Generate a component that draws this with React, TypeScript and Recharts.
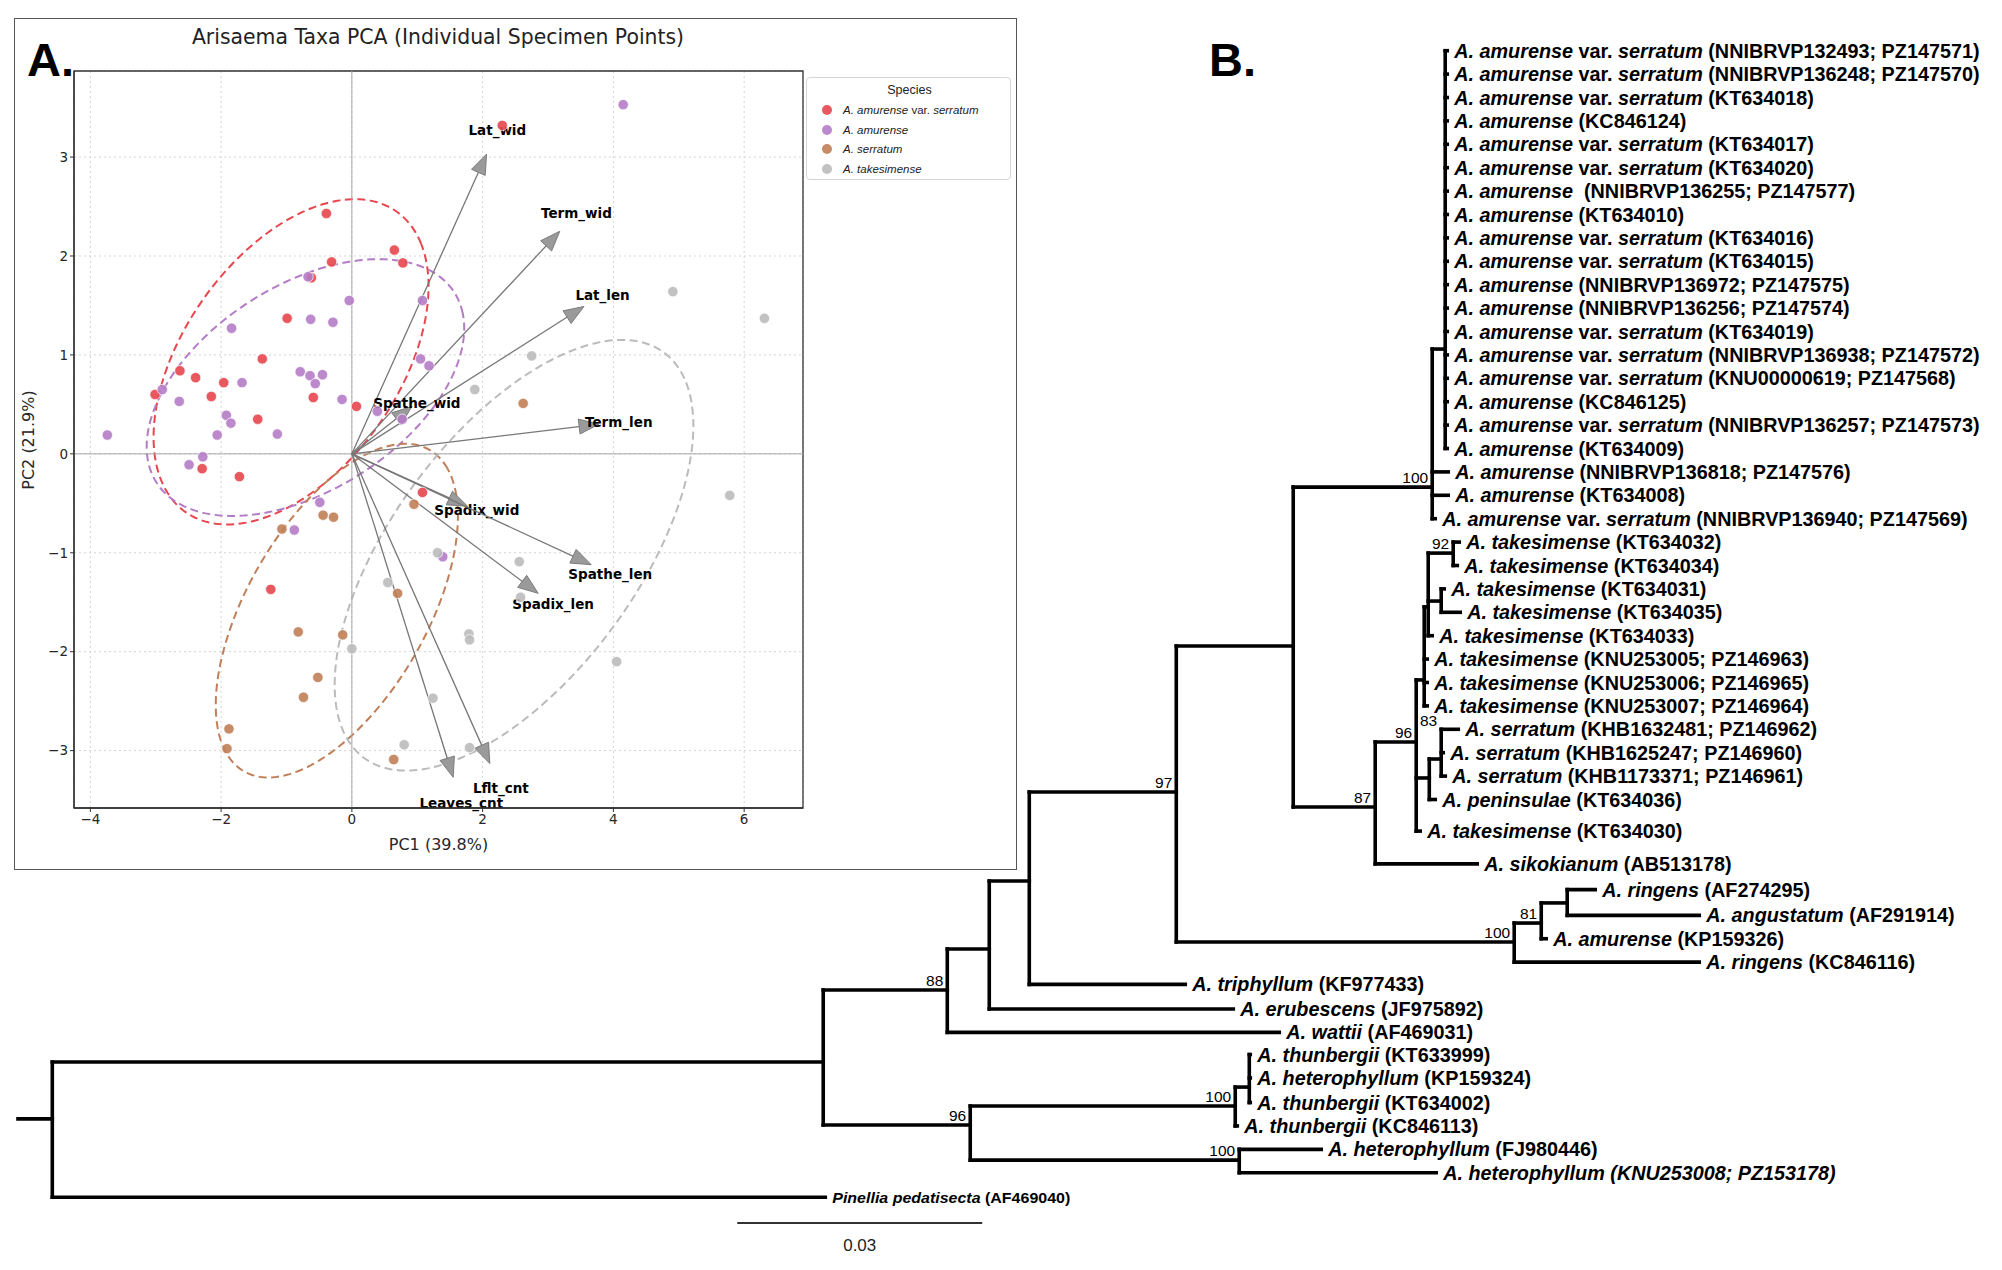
import React from "react";
import { ScatterChart, Scatter, XAxis, YAxis, CartesianGrid, ReferenceLine, ReferenceArea } from "recharts";

const PCA_FONT = '"DejaVu Sans", sans-serif';
const TREE_FONT = '"Liberation Sans", Arial, sans-serif';

// ---------- Panel A: PCA ----------
const speciesNames = ["A. amurense var. serratum", "A. amurense", "A. serratum", "A. takesimense"];
const speciesColors = ["#e8464e", "#b47cc7", "#c07f58", "#bbbbbb"];

const varSerratumPts = [
  [2.3, 3.32], [-0.39, 2.43], [0.65, 2.06], [-0.31, 1.94], [0.78, 1.93], [-0.62, 1.78], [-0.99, 1.37],
  [-1.37, 0.96], [-2.63, 0.84], [-2.39, 0.77], [-1.96, 0.72], [-3.01, 0.6], [-2.15, 0.58], [-0.59, 0.57],
  [0.07, 0.48], [-1.44, 0.35], [-2.29, -0.15], [-1.72, -0.23], [1.08, -0.39], [-1.24, -1.37],
];
const amurensePts = [
  [4.15, 3.53], [-0.67, 1.79], [-0.04, 1.55], [1.08, 1.55], [-1.84, 1.27], [-0.63, 1.36], [-0.29, 1.33],
  [1.05, 0.96], [1.18, 0.89], [-0.79, 0.83], [-0.64, 0.79], [-0.45, 0.8], [-0.56, 0.71], [-1.68, 0.72],
  [-2.9, 0.65], [-2.64, 0.53], [-0.15, 0.55], [0.39, 0.43], [0.77, 0.35], [-1.92, 0.39], [-1.85, 0.31],
  [-2.06, 0.19], [-3.74, 0.19], [-1.14, 0.2], [-2.28, -0.03], [-2.49, -0.11], [-0.49, -0.49], [-0.88, -0.77],
  [1.39, -1.04],
];
const serratumPts = [
  [2.62, 0.51], [0.95, -0.51], [-0.44, -0.62], [-0.28, -0.64], [-1.07, -0.76], [0.7, -1.41], [-0.82, -1.8],
  [-0.14, -1.83], [-0.52, -2.26], [-0.74, -2.46], [-1.88, -2.78], [-1.91, -2.98], [0.64, -3.09],
];
const takesimensePts = [
  [4.91, 1.64], [6.31, 1.37], [2.75, 0.99], [1.88, 0.65], [5.78, -0.42], [1.31, -1.0], [2.56, -1.09],
  [0.55, -1.3], [2.58, -1.45], [1.79, -1.82], [1.8, -1.88], [0.0, -1.97], [4.05, -2.1], [1.24, -2.47],
  [0.8, -2.94], [1.8, -2.97],
];
const speciesPoints = [varSerratumPts, amurensePts, serratumPts, takesimensePts];

// 95% ellipses (center, semi-axes, angle in degrees), one per species
const ellipseCX = [-0.93, -0.71, -0.23, 2.48];
const ellipseCY = [0.93, 0.67, -1.585, -1.025];
const ellipseRX = [2.32, 2.52, 2.22, 3.16];
const ellipseRY = [1.32, 1.11, 1.16, 1.51];
const ellipseAngle = [30.9, 17.3, 40.3, 34.4];

const loadingNames = ["Lat_wid", "Term_wid", "Lat_len", "Term_len", "Spathe_wid", "Spadix_wid", "Spathe_len", "Spadix_len", "Lflt_cnt", "Leaves_cnt"];
const loadingPC1 = [2.06, 3.18, 3.55, 3.78, 0.92, 1.77, 3.66, 2.85, 2.11, 1.55];
const loadingPC2 = [3.03, 2.25, 1.49, 0.3, 0.48, -0.53, -1.12, -1.41, -3.13, -3.27];

const xTicks = [-4, -2, 0, 2, 4, 6];
const yTicks = [-3, -2, -1, 0, 1, 2, 3];
const xDomain = [-4.25, 6.9];
const yDomain = [-3.58, 3.87];

// ---------- Panel B: tree (x in substitutions/site, y in leaf rows) ----------
const treeNodeIds = ["root", "ingroup", "n88", "nE", "nF", "n97", "nX", "n100a", "nA1", "n87", "n96", "nT0", "nT1", "n92", "n31", "nS", "n83", "n100r", "n81", "nR", "n96b", "n100t", "nTs", "n100h"];
const treeNodeParent = ["", "root", "ingroup", "n88", "nE", "nF", "n97", "nX", "n100a", "nX", "n87", "n96", "nT0", "nT1", "nT1", "n96", "nS", "n97", "n100r", "n81", "ingroup", "n96b", "n100t", "n96b"];
const treeNodeX = [0, 0.0944, 0.10959, 0.11473, 0.11963, 0.13763, 0.15195, 0.16897, 0.17056, 0.16199, 0.16701, 0.16799, 0.16848, 0.17154, 0.17007, 0.16861, 0.17007, 0.17901, 0.18232, 0.1855, 0.1124, 0.14485, 0.14657, 0.14534];
const treeNodeRow = [45.65, 43.22, 40.14, 38.39, 35.48, 31.68, 25.44, 18.65, 12.75, 32.32, 29.54, 26.89, 23.77, 21.47, 23.52, 31.08, 30.27, 38.09, 37.28, 36.42, 45.91, 45.1, 44.29, 47.41];
const rootStubX = -0.0042;

const supportNodes = ["n100a", "n92", "n83", "n96", "n87", "n97", "n100r", "n81", "n88", "n96b", "n100t", "n100h"];
const supportText = ["100", "92", "83", "96", "87", "97", "100", "81", "88", "96", "100", "100"];
const supportRow = [18.65, 21.47, 29.05, 29.54, 32.32, 31.68, 38.09, 37.28, 40.14, 45.91, 45.1, 47.41];

const leafTaxa = [
  "A. amurense var. serratum", "A. amurense var. serratum", "A. amurense var. serratum", "A. amurense",
  "A. amurense var. serratum", "A. amurense var. serratum", "A. amurense", "A. amurense",
  "A. amurense var. serratum", "A. amurense var. serratum", "A. amurense", "A. amurense",
  "A. amurense var. serratum", "A. amurense var. serratum", "A. amurense var. serratum", "A. amurense",
  "A. amurense var. serratum", "A. amurense", "A. amurense", "A. amurense", "A. amurense var. serratum",
  "A. takesimense", "A. takesimense", "A. takesimense", "A. takesimense", "A. takesimense",
  "A. takesimense", "A. takesimense", "A. takesimense", "A. serratum", "A. serratum", "A. serratum",
  "A. peninsulae", "A. takesimense", "A. sikokianum", "A. ringens", "A. angustatum", "A. amurense",
  "A. ringens", "A. triphyllum", "A. erubescens", "A. wattii", "A. thunbergii", "A. heterophyllum",
  "A. thunbergii", "A. thunbergii", "A. heterophyllum", "A. heterophyllum", "Pinellia pedatisecta",
];
const leafAcc = [
  " (NNIBRVP132493; PZ147571)", " (NNIBRVP136248; PZ147570)", " (KT634018)", " (KC846124)",
  " (KT634017)", " (KT634020)", "  (NNIBRVP136255; PZ147577)", " (KT634010)",
  " (KT634016)", " (KT634015)", " (NNIBRVP136972; PZ147575)", " (NNIBRVP136256; PZ147574)",
  " (KT634019)", " (NNIBRVP136938; PZ147572)", " (KNU00000619; PZ147568)", " (KC846125)",
  " (NNIBRVP136257; PZ147573)", " (KT634009)", " (NNIBRVP136818; PZ147576)", " (KT634008)", " (NNIBRVP136940; PZ147569)",
  " (KT634032)", " (KT634034)", " (KT634031)", " (KT634035)", " (KT634033)",
  " (KNU253005; PZ146963)", " (KNU253006; PZ146965)", " (KNU253007; PZ146964)",
  " (KHB1632481; PZ146962)", " (KHB1625247; PZ146960)", " (KHB1173371; PZ146961)",
  " (KT634036)", " (KT634030)", " (AB513178)", " (AF274295)", " (AF291914)", " (KP159326)",
  " (KC846116)", " (KF977433)", " (JF975892)", " (AF469031)", " (KT633999)", " (KP159324)",
  " (KT634002)", " (KC846113)", " (FJ980446)", " (KNU253008; PZ153178)", " (AF469040)",
];
const leafParent = [
  "nA1", "nA1", "nA1", "nA1", "nA1", "nA1", "nA1", "nA1", "nA1", "nA1", "nA1", "nA1", "nA1", "nA1", "nA1", "nA1", "nA1", "nA1",
  "n100a", "n100a", "n100a", "n92", "n92", "n31", "n31", "nT1", "nT0", "nT0", "nT0", "n83", "n83", "n83", "nS", "n96",
  "n87", "nR", "nR", "n81", "n100r", "nF", "nE", "n88", "nTs", "nTs", "nTs", "n100t", "n100h", "n100h", "root",
];
const leafX = [
  0.17081, 0.17081, 0.17081, 0.17081, 0.17081, 0.17081, 0.17081, 0.17081, 0.17081, 0.17081, 0.17081, 0.17081,
  0.17081, 0.17081, 0.17081, 0.17081, 0.17081, 0.17081, 0.17093, 0.17093, 0.16934, 0.17228, 0.17204, 0.17044,
  0.1724, 0.16897, 0.16836, 0.16836, 0.16836, 0.17216, 0.17032, 0.17057, 0.16934, 0.1675, 0.17448, 0.18893,
  0.20167, 0.18293, 0.20167, 0.13873, 0.14461, 0.15024, 0.14669, 0.14669, 0.14669, 0.1451, 0.15538, 0.16946, 0.09465,
];
const leafRow = [
  0, 1, 2, 3, 4, 5, 6, 7, 8, 9, 10, 11, 12, 13, 14, 15, 16, 17, 18, 19, 20, 21, 22, 23, 24, 25, 26, 27, 28, 29, 30, 31, 32,
  33.35, 34.75, 35.85, 36.95, 37.95, 38.95, 39.9, 40.95, 41.95, 42.9, 43.9, 44.95, 45.95, 46.95, 47.95, 49,
];
const scaleBarStart = 0.08387;
const scaleBarLength = 0.03;
const scaleBarRow = 50.1;

// ---------- helpers ----------
const minus = (v: number) => String(v).replace("-", "\u2212");
const toXY = (arr: number[][]) => arr.map(([x, y]) => ({ x, y }));

const makeDot = (color: string) => (p: any) => (
  <circle cx={p.cx} cy={p.cy} r={5.2} fill={color} fillOpacity={0.9} stroke="#fff" strokeWidth={0.7} />
);

const makeEllipse = (i: number) => (p: any) => {
  const kx = p.width / 2;
  const ky = p.height / 2;
  const cx = p.x + kx;
  const cy = p.y + ky;
  const th = (ellipseAngle[i] * Math.PI) / 180;
  let d = "";
  for (let k = 0; k <= 200; k++) {
    const t = (k / 200) * Math.PI * 2;
    const ex = ellipseRX[i] * Math.cos(t);
    const ey = ellipseRY[i] * Math.sin(t);
    const dx = ex * Math.cos(th) - ey * Math.sin(th);
    const dy = ex * Math.sin(th) + ey * Math.cos(th);
    d += `${k === 0 ? "M" : "L"}${(cx + kx * dx).toFixed(2)},${(cy - ky * dy).toFixed(2)}`;
  }
  return <path d={d} fill="none" stroke={speciesColors[i]} strokeWidth={2} strokeDasharray="8 4.5" />;
};

const makeArrow = (name: string) => (p: any) => {
  const { x1, y1, x2, y2 } = p;
  const dx = x2 - x1;
  const dy = y2 - y1;
  const len = Math.hypot(dx, dy);
  const ux = dx / len;
  const uy = dy / len;
  const hl = 20;
  const hw = 7.5;
  const bx = x2 - ux * hl;
  const by = y2 - uy * hl;
  const nx = -uy;
  const ny = ux;
  return (
    <g>
      <line x1={x1} y1={y1} x2={bx + ux * 4} y2={by + uy * 4} stroke="#777" strokeWidth={1.3} />
      <polygon
        points={`${x2},${y2} ${bx + nx * hw},${by + ny * hw} ${bx - nx * hw},${by - ny * hw}`}
        fill="#9a9a9a"
        stroke="#7c7c7c"
        strokeWidth={1}
      />
      <text
        x={x1 + dx * 1.08}
        y={y1 + dy * 1.08}
        textAnchor="middle"
        dominantBaseline="central"
        fontFamily={PCA_FONT}
        fontWeight="bold"
        fontSize={13.5}
        fill="#000"
      >
        {name}
      </text>
    </g>
  );
};

// tree geometry built from node/leaf arrays
const nodeIndex: Record<string, number> = {};
treeNodeIds.forEach((id, i) => (nodeIndex[id] = i));

type Seg = [{ x: number; y: number }, { x: number; y: number }];
const treeSegments: Seg[] = [];
const childRows: Record<string, number[]> = {};
treeNodeIds.forEach((id, i) => {
  const par = treeNodeParent[i];
  if (!par) return;
  const pi = nodeIndex[par];
  treeSegments.push([{ x: treeNodeX[pi], y: treeNodeRow[i] }, { x: treeNodeX[i], y: treeNodeRow[i] }]);
  (childRows[par] = childRows[par] || []).push(treeNodeRow[i]);
});
leafTaxa.forEach((_, i) => {
  const pi = nodeIndex[leafParent[i]];
  treeSegments.push([{ x: treeNodeX[pi], y: leafRow[i] }, { x: leafX[i], y: leafRow[i] }]);
  (childRows[leafParent[i]] = childRows[leafParent[i]] || []).push(leafRow[i]);
});
treeNodeIds.forEach((id, i) => {
  const rows = childRows[id];
  if (!rows) return;
  treeSegments.push([{ x: treeNodeX[i], y: Math.min(...rows) }, { x: treeNodeX[i], y: Math.max(...rows) }]);
});
treeSegments.push([{ x: rootStubX, y: treeNodeRow[0] }, { x: 0, y: treeNodeRow[0] }]);

const leafData = leafTaxa.map((_, i) => ({ x: leafX[i], y: leafRow[i], i }));
const supportData = supportNodes.map((id, i) => ({ x: treeNodeX[nodeIndex[id]], y: supportRow[i], i }));

const LeafLabel = (p: any) => {
  const i = p.payload.i;
  const parts = leafTaxa[i].split(" var. ");
  const pinellia = i === leafTaxa.length - 1;
  const fs = pinellia ? 15 : 19.8;
  return (
    <text
      x={p.cx + 7}
      y={p.cy + fs * 0.36}
      fontFamily={TREE_FONT}
      fontWeight="bold"
      fontSize={fs}
      fill="#000"
      style={{ whiteSpace: "pre" }}
      {...(pinellia ? { textLength: 238, lengthAdjust: "spacingAndGlyphs" } : {})}
    >
      <tspan fontStyle="italic">{parts[0]}</tspan>
      {parts.length > 1 ? <tspan> var. </tspan> : null}
      {parts.length > 1 ? <tspan fontStyle="italic">{parts[1]}</tspan> : null}
      <tspan fontStyle={leafAcc[i].includes("PZ153178") ? "italic" : "normal"}>{leafAcc[i]}</tspan>
    </text>
  );
};

const SupportLabel = (p: any) => (
  <text x={p.cx - 4} y={p.cy - 4} textAnchor="end" fontFamily={TREE_FONT} fontSize={15.5} fill="#000">
    {supportText[p.payload.i]}
  </text>
);

export default function App() {
  return (
    <div style={{ position: "absolute", left: 0, top: 0, width: 2002, height: 1270, background: "#fff", overflow: "hidden" }}>
      {/* Panel A frame */}
      <div style={{ position: "absolute", left: 14, top: 18, width: 1003, height: 852, border: "1.5px solid #555", boxSizing: "border-box" }} />
      <div style={{ position: "absolute", left: 0, top: 0 }}>
        <ScatterChart width={1017} height={870} margin={{ top: 71, right: 214, bottom: 20, left: 24 }}>
          <CartesianGrid stroke="#d4d4d4" strokeDasharray="2 3" />
          <XAxis
            type="number"
            dataKey="x"
            domain={xDomain}
            ticks={xTicks}
            allowDataOverflow
            tickFormatter={minus}
            tick={{ fontSize: 13.5, fill: "#262626", fontFamily: PCA_FONT }}
            axisLine={{ stroke: "#333", strokeWidth: 1.3 }}
            tickLine={{ stroke: "#333" }}
            tickSize={4}
            height={42}
            label={{ value: "PC1 (39.8%)", position: "insideBottom", offset: 0, fontSize: 16, fill: "#262626", fontFamily: PCA_FONT }}
          />
          <YAxis
            type="number"
            dataKey="y"
            domain={yDomain}
            ticks={yTicks}
            allowDataOverflow
            tickFormatter={minus}
            tick={{ fontSize: 13.5, fill: "#262626", fontFamily: PCA_FONT }}
            axisLine={{ stroke: "#333", strokeWidth: 1.3 }}
            tickLine={{ stroke: "#333" }}
            tickSize={4}
            width={50}
          />
          <ReferenceLine x={0} stroke="#a8a8a8" strokeWidth={1} />
          <ReferenceLine y={0} stroke="#a8a8a8" strokeWidth={1} />
          {speciesPoints.map((pts, i) => (
            <Scatter key={speciesNames[i]} name={speciesNames[i]} data={toXY(pts)} shape={makeDot(speciesColors[i])} isAnimationActive={false} />
          ))}
          {ellipseCX.map((cx, i) => (
            <ReferenceArea
              key={`ell-${i}`}
              x1={cx - 1}
              x2={cx + 1}
              y1={ellipseCY[i] - 1}
              y2={ellipseCY[i] + 1}
              ifOverflow="visible"
              shape={makeEllipse(i)}
            />
          ))}
          {loadingNames.map((name, i) => (
            <ReferenceLine
              key={name}
              segment={[{ x: 0, y: 0 }, { x: loadingPC1[i], y: loadingPC2[i] }]}
              ifOverflow="visible"
              shape={makeArrow(name)}
            />
          ))}
          <ReferenceArea x1={xDomain[0]} x2={xDomain[1]} y1={yDomain[0]} y2={yDomain[1]} fill="none" stroke="#333" strokeWidth={1.3} ifOverflow="visible" />
        </ScatterChart>
      </div>
      <div style={{ position: "absolute", left: 0, width: 876, top: 25, textAlign: "center", fontFamily: PCA_FONT, fontSize: 20.4, lineHeight: "24px", color: "#222" }}>
        Arisaema Taxa PCA (Individual Specimen Points)
      </div>
      <div style={{ position: "absolute", left: 28, top: 440, transform: "translate(-50%, -50%) rotate(-90deg)", whiteSpace: "nowrap", fontFamily: PCA_FONT, fontSize: 16, color: "#262626" }}>
        PC2 (21.9%)
      </div>
      <div style={{ position: "absolute", left: 27, top: 36, fontFamily: TREE_FONT, fontWeight: "bold", fontSize: 47, lineHeight: "47px", color: "#000" }}>A.</div>
      {/* legend */}
      <div style={{ position: "absolute", left: 806, top: 77, width: 205, height: 103, border: "1px solid #d6d6d6", borderRadius: 4, background: "#fff", boxSizing: "border-box" }}>
        <div style={{ position: "absolute", left: 0, width: 205, top: 5, textAlign: "center", fontFamily: TREE_FONT, fontSize: 12.5, color: "#222" }}>Species</div>
        {speciesNames.map((n, i) => {
          const parts = n.split(" var. ");
          return (
            <div key={n} style={{ position: "absolute", left: 0, top: 24 + i * 19.7, height: 16, width: 205 }}>
              <div style={{ position: "absolute", left: 15, top: 3, width: 10, height: 10, borderRadius: 5, background: speciesColors[i], opacity: 0.9 }} />
              <div style={{ position: "absolute", left: 36, top: 0, fontFamily: TREE_FONT, fontSize: 11.5, lineHeight: "16px", color: "#222", whiteSpace: "pre" }}>
                <i>{parts[0]}</i>
                {parts.length > 1 ? <span> var. </span> : null}
                {parts.length > 1 ? <i>{parts[1]}</i> : null}
              </div>
            </div>
          );
        })}
      </div>

      {/* Panel B: tree */}
      <div style={{ position: "absolute", left: 1209, top: 36, fontFamily: TREE_FONT, fontWeight: "bold", fontSize: 47, lineHeight: "47px", color: "#000" }}>B.</div>
      <div style={{ position: "absolute", left: 0, top: 0 }}>
        <ScatterChart width={2002} height={1270} margin={{ top: 3.9, right: 24, bottom: 2.5, left: 18 }}>
          <XAxis type="number" dataKey="x" domain={[rootStubX, rootStubX + 0.24]} hide />
          <YAxis type="number" dataKey="y" domain={[-2, 52]} reversed hide />
          {treeSegments.map((s, i) => (
            <ReferenceLine key={`seg-${i}`} segment={s} stroke="#000" strokeWidth={3.6} strokeLinecap="square" ifOverflow="visible" />
          ))}
          <ReferenceLine
            segment={[{ x: scaleBarStart, y: scaleBarRow }, { x: scaleBarStart + scaleBarLength, y: scaleBarRow }]}
            stroke="#333"
            strokeWidth={2}
            ifOverflow="visible"
            label={{ value: "0.03", position: "bottom", offset: 16, fontSize: 17, fill: "#222", fontFamily: TREE_FONT }}
          />
          <Scatter data={leafData} shape={LeafLabel} isAnimationActive={false} />
          <Scatter data={supportData} shape={SupportLabel} isAnimationActive={false} />
        </ScatterChart>
      </div>
    </div>
  );
}
